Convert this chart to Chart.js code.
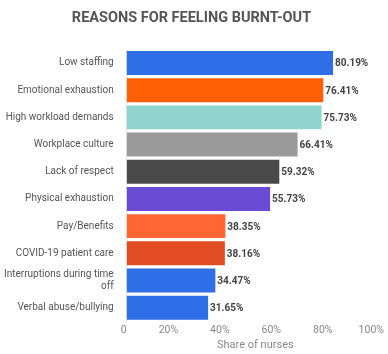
<!DOCTYPE html>
<html>
<head>
<meta charset="utf-8">
<script src="https://cdn.jsdelivr.net/npm/chart.js@4/dist/chart.umd.min.js"></script>
<style>
  html, body { margin: 0; padding: 0; background: #fff; }
  #wrap { width: 388px; height: 354px; position: relative; }
</style>
</head>
<body>
<div id="wrap"><canvas id="chart"></canvas></div>
<script>
const reasons = ['Low staffing', 'Emotional exhaustion', 'High workload demands', 'Workplace culture',
  'Lack of respect', 'Physical exhaustion', 'Pay/Benefits', 'COVID-19 patient care',
  ['Interruptions during time', 'off'], 'Verbal abuse/bullying']
const shares = [80.19, 76.41, 75.73, 66.41, 59.32, 55.73, 38.35, 38.16, 34.47, 31.65]
const barColors = ['#2e6ee6', '#ff5f05', '#8fd4cd', '#9a9a9a', '#4a4a4a', '#6a4bd4',
  '#ff6633', '#e24c22', '#2e6ee6', '#2e6ee6']
const xTicks = [0, 20, 40, 60, 80, 100]

// writes the value just past the end of each bar
const valueLabels = {
  id: 'valueLabels',
  afterDatasetsDraw(chart) {
    const ctx = chart.ctx
    const meta = chart.getDatasetMeta(0)
    ctx.save()
    ctx.font = 'bold 10px Roboto'
    ctx.fillStyle = '#444'
    ctx.textBaseline = 'middle'
    ctx.textAlign = 'left'
    meta.data.forEach((bar, i) => {
      ctx.fillText(shares[i].toFixed(2) + '%', bar.x + 2, bar.y + 1)
    })
    ctx.restore()
  }
}

new Chart(document.getElementById('chart'), {
  type: 'bar',
  data: {
    labels: reasons,
    datasets: [{
      data: shares,
      backgroundColor: barColors,
      barPercentage: 0.88,
      categoryPercentage: 1
    }]
  },
  options: {
    indexAxis: 'y',
    responsive: true,
    maintainAspectRatio: false,
    animation: false,
    events: [],
    layout: { padding: { left: -1, right: 4, top: 0, bottom: 2 } },
    plugins: {
      legend: { display: false },
      tooltip: { enabled: false },
      title: {
        display: true,
        text: 'REASONS FOR FEELING BURNT-OUT',
        color: '#555',
        font: { family: 'Roboto', size: 14.5, weight: 'bold' },
        padding: { top: 10, bottom: 22 }
      }
    },
    scales: {
      x: {
        min: 0,
        max: 100,
        afterBuildTicks: axis => { axis.ticks = xTicks.map(v => ({ value: v })) },
        grid: { display: false, drawTicks: false },
        border: { display: false },
        ticks: {
          align: 'end',
          color: '#888',
          font: { family: 'Roboto', size: 10.5, lineHeight: 1 },
          padding: 4,
          callback: v => v === 0 ? '0' : v + '%'
        },
        title: {
          display: true,
          text: 'Share of nurses',
          color: '#888',
          font: { family: 'Roboto', size: 11 },
          padding: { top: -1, bottom: 0 }
        }
      },
      y: {
        grid: { display: false },
        border: { display: true, color: '#e4e4e4' },
        ticks: {
          color: '#555',
          font: { family: 'Roboto', size: 10 },
          padding: 5,
          autoSkip: false
        }
      }
    }
  },
  plugins: [valueLabels]
})
</script>
</body>
</html>
